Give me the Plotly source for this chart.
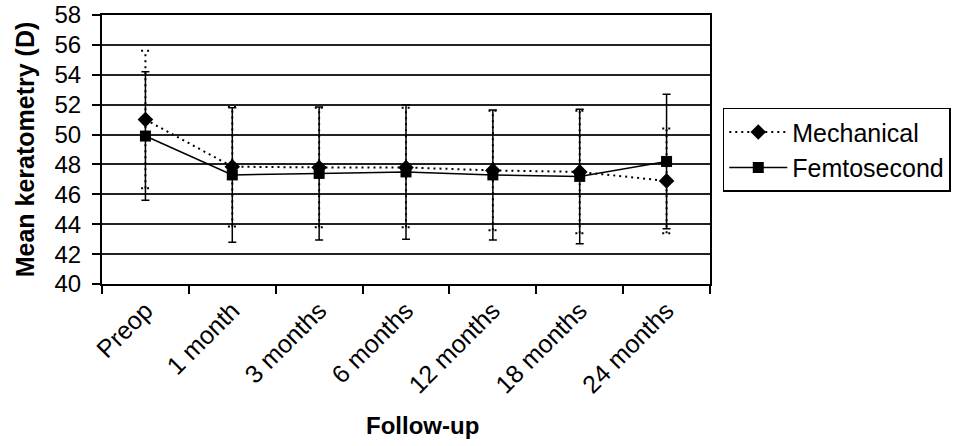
import plotly.graph_objects as go

categories = ["Preop", "1 month", "3 months", "6 months", "12 months", "18 months", "24 months"]
mech_mean = [51.0, 47.85, 47.8, 47.8, 47.6, 47.5, 46.9]
mech_sd = [4.6, 4.0, 4.0, 4.0, 4.0, 4.1, 3.5]
femto_mean = [49.9, 47.3, 47.4, 47.5, 47.3, 47.2, 48.2]
femto_sd = [4.3, 4.5, 4.45, 4.5, 4.35, 4.5, 4.5]
y_ticks = list(range(40, 60, 2))

FONT = "Arial, Liberation Sans, sans-serif"

# dotted error bars for Mechanical (drawn on a hidden numeric overlay axis)
ex, ey = [], []
cap = 0.05
for i, (m, s) in enumerate(zip(mech_mean, mech_sd)):
    lo, hi = m - s, m + s
    ex += [i, i, None, i - cap, i + cap, None, i - cap, i + cap, None]
    ey += [lo, hi, None, lo, lo, None, hi, hi, None]

fig = go.Figure()

fig.add_trace(go.Scatter(
    x=ex, y=ey, xaxis="x2", mode="lines", showlegend=False, hoverinfo="skip",
    line=dict(color="black", width=2, dash="2px,4px"),
))

fig.add_trace(go.Scatter(
    x=categories, y=femto_mean, name="Femtosecond", mode="lines+markers",
    line=dict(color="black", width=1.5),
    marker=dict(symbol="square", size=11, color="black"),
    error_y=dict(type="data", array=femto_sd, visible=True, color="black",
                 thickness=1.5, width=4),
    legendrank=2, legendgroup="f",
))

fig.add_trace(go.Scatter(
    x=categories, y=mech_mean, name="Mechanical", mode="lines+markers",
    line=dict(color="black", width=2, dash="2px,4px"),
    marker=dict(symbol="diamond", size=12, color="black"),
    legendrank=1, legendgroup="m",
))

fig.update_layout(
    width=957, height=446,
    margin=dict(l=102, r=247, t=15, b=162, autoexpand=False),
    plot_bgcolor="white", paper_bgcolor="white",
    font=dict(family=FONT, size=23, color="black"),
    xaxis=dict(
        type="category", categoryorder="array", categoryarray=categories,
        range=[-0.5, 6.5], tickson="boundaries", ticks="outside", ticklen=8,
        tickwidth=1.5, tickcolor="black", tickangle=-45, automargin=False,
        showline=True, linecolor="black", linewidth=2, mirror=True,
        showgrid=False, tickfont=dict(size=25),
    ),
    xaxis2=dict(overlaying="x", range=[-0.5, 6.5], visible=False),
    yaxis=dict(
        range=[40, 58], tickvals=y_ticks + [58], ticks="outside", ticklen=8,
        tickwidth=1.5, tickcolor="black", ticklabelstandoff=6, automargin=False,
        showline=True, linecolor="black", linewidth=2, mirror=True,
        showgrid=True, gridcolor="#222222", gridwidth=1.5,
        tickfont=dict(size=24), zeroline=False,
    ),
    legend=dict(
        x=1.021, y=0.655, xanchor="left", yanchor="top",
        bordercolor="black", borderwidth=1.5, bgcolor="white",
        font=dict(size=25), tracegroupgap=0, traceorder="grouped",
        itemwidth=58,
    ),
    annotations=[
        dict(text="<b>Follow-up</b>", x=0.527, y=-0.526, xref="paper", yref="paper",
             xanchor="center", yanchor="middle", showarrow=False, font=dict(size=24)),
        dict(text="<b>Mean keratometry (D)</b>", x=-0.1269, y=0.5, xref="paper", yref="paper",
             xanchor="center", yanchor="middle", textangle=-90, showarrow=False,
             font=dict(size=25)),
    ],
)

fig.write_html("out.html")
